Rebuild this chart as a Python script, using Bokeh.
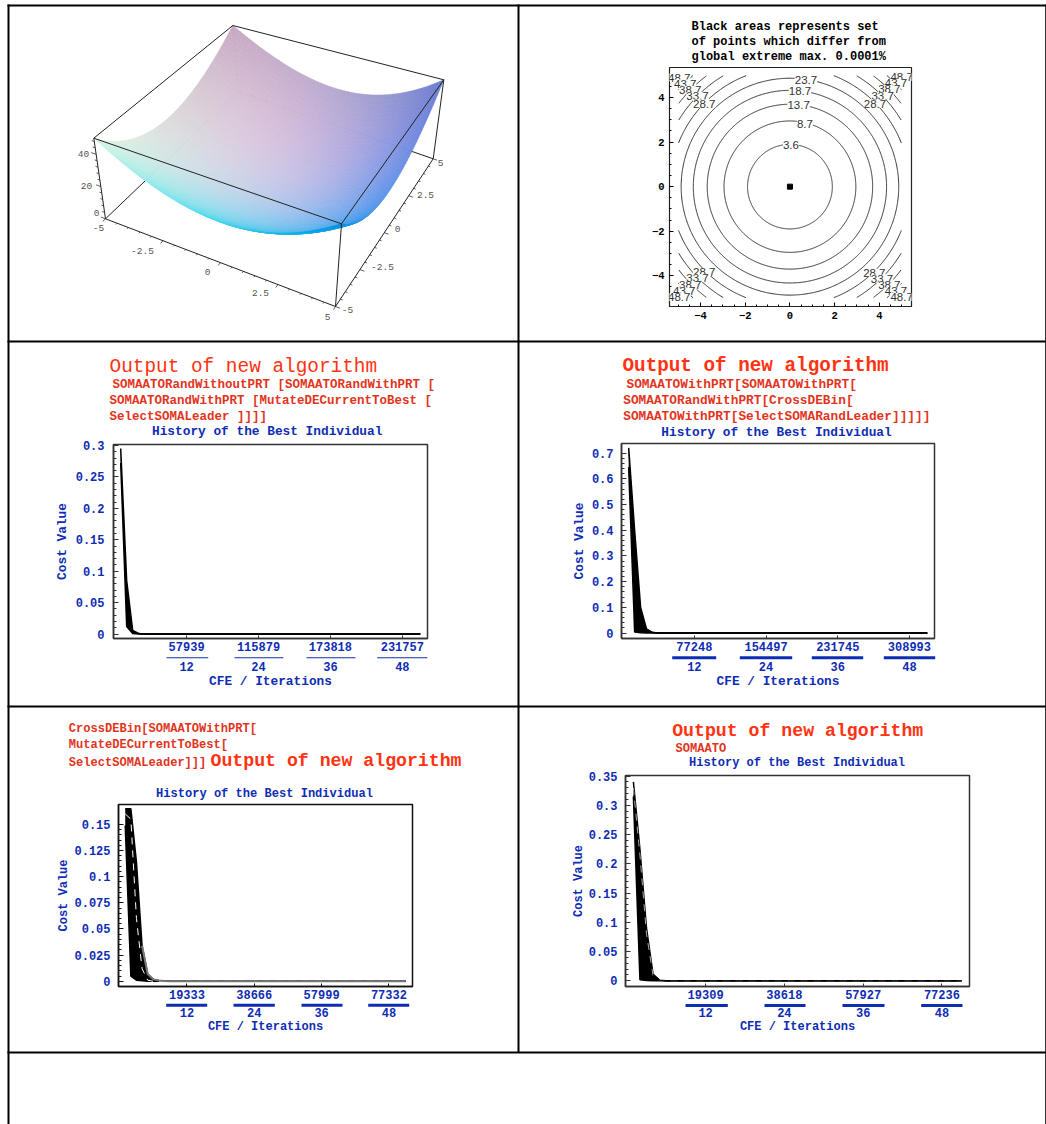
import numpy as np
from bokeh.plotting import figure
from bokeh.layouts import column, row
from bokeh.models import (Range1d, LinearAxis, FixedTicker, Label)
from bokeh.embed import file_html
from bokeh.resources import INLINE

# ---------- data ----------
ITER = list(range(1, 52))
C1_UP = [.295, .085, .006, .001] + [0.0] * 47
C1_LO = [.272, .012, .001, .0] + [0.0] * 47
C2_UP = [.72, .40, .10, .015, .002, .0004] + [0.0] * 45
C2_LO = [.645, .004, .001, .0] + [0.0] * 47
C3_UP = [.165, .165, .114, .034, .007, .0018, .0007, .0002] + [0.0] * 43
C3_LO = [.149, .005, .001, .0005] + [0.0] * 47
C3_MID = [.16, .155, .06, .012, .001] + [0.0] * 46
C4_UP = [.34, .225, .09, .011, .001] + [0.0] * 46
C4_LO = [.315, .002, .0005] + [0.0] * 48
C4_MID = [.33, .215, .08, .009, .001] + [0.0] * 46

IT_TICKS = [12, 24, 36, 48]
C1_CFE = ["57939", "115879", "173818", "231757"]
C2_CFE = ["77248", "154497", "231745", "308993"]
C3_CFE = ["19333", "38666", "57999", "77332"]
C4_CFE = ["19309", "38618", "57927", "77236"]
C1_YT = [0, .05, .1, .15, .2, .25, .3]
C1_YL = ["0", "0.05", "0.1", "0.15", "0.2", "0.25", "0.3"]
C2_YT = [0, .1, .2, .3, .4, .5, .6, .7]
C2_YL = ["0", "0.1", "0.2", "0.3", "0.4", "0.5", "0.6", "0.7"]
C3_YT = [0, .025, .05, .075, .1, .125, .15]
C3_YL = ["0", "0.025", "0.05", "0.075", "0.1", "0.125", "0.15"]
C4_YT = [0, .05, .1, .15, .2, .25, .3, .35]
C4_YL = ["0", "0.05", "0.1", "0.15", "0.2", "0.25", "0.3", "0.35"]

CONTOUR_LEVELS = [3.6, 8.7, 13.7, 18.7, 23.7, 28.7, 33.7, 38.7, 43.7, 48.7]
AXIS_3D = [-5, -2.5, 0, 2.5, 5]
Z_3D = [0, 20, 40]

MONO = "Liberation Mono"
BLUE = "#0f2db4"
RED = "#ff3311"
RED2 = "#e2341d"

# ---------- overlay covering the whole page: table lines, headings, fraction rules ----------
ov = figure(width=1046, height=1124, x_range=Range1d(0, 1046), y_range=Range1d(1124, 0), toolbar_location=None,
            output_backend="svg", min_border=0, outline_line_color=None, border_fill_color=None, background_fill_color=None,
            frame_align=False, styles={"position": "absolute", "left": "0px", "top": "0px"})
ov.grid.visible = False
ov.xaxis.visible = False
ov.yaxis.visible = False
for a, b, end in [(7, 9, 1124), (517, 519, 1052), (1044.7, 1046, 1124)]:
    ov.quad(left=a, right=b, top=4, bottom=end, fill_color="black", line_color=None)
for a, b in [(4, 6), (340, 342), (705, 707), (1051, 1053)]:
    ov.quad(left=7, right=1046, top=a, bottom=b, fill_color="black", line_color=None)


def txt(x, y, s, size, color, align="left", bold=True, font=MONO):
    ov.add_layout(Label(x=x, y=y, text=s, text_font=font, text_font_size=f"{size}px", text_color=color,
                        text_align=align, text_baseline="middle", text_font_style="bold" if bold else "normal"))


def rules(spans, yc, thick):
    for a, b in spans:
        ov.quad(left=a, right=b, top=yc - thick / 2, bottom=yc + thick / 2, fill_color=BLUE, line_color=None)


def minors(t, n=5):
    out = []
    for a, b in zip(t[:-1], t[1:]):
        out += [a + (b - a) * k / n for k in range(1, n)]
    return out


def chart(cell, wh, frame, yr, yt, yl, cfe, up, lo, mid=None, mid_color="white", tail="black", tail_w=1.5, frame_color="#333333",
          font=12.8, tick_font=12, ystand=8, label_stand=0, x2label=2, x2stand=0):
    w, h = wh
    fl, fr, ft, fb = frame
    p = figure(width=w, height=h, x_range=Range1d(-0.2, 52.2), y_range=Range1d(*yr),
               toolbar_location=None, output_backend="svg", frame_align=False,
               min_border_left=fl - cell[0], min_border_right=cell[0] + w - fr,
               min_border_top=ft - cell[1], min_border_bottom=cell[1] + h - fb,
               outline_line_color=frame_color, outline_line_width=1.5)
    p.grid.visible = False
    p.varea(ITER, lo, up, fill_color="black")
    p.line(ITER, up, line_color="black", line_width=1.5)
    p.line(ITER, lo, line_color="black", line_width=1.5)
    if mid is not None:
        p.line(ITER, mid, line_color=mid_color, line_width=1, line_dash="7 6")
    p.line(ITER[3:], up[3:], line_color=tail, line_width=tail_w)

    ax = p.xaxis[0]
    ax.ticker = FixedTicker(ticks=IT_TICKS)
    ax.major_label_overrides = dict(zip(IT_TICKS, cfe))
    ax.major_tick_in = 3
    ax.major_tick_out = 0
    ax.major_tick_line_color = frame_color
    ax.minor_tick_line_color = None
    ax.axis_line_color = frame_color
    ax.axis_line_width = 1.5
    ax.major_label_standoff = 3
    ax.major_label_text_font = MONO
    ax.major_label_text_font_size = f"{tick_font}px"
    ax.major_label_text_font_style = "bold"
    ax.major_label_text_color = BLUE

    ax2 = LinearAxis(ticker=FixedTicker(ticks=IT_TICKS), axis_label="CFE / Iterations",
                     axis_label_text_font=MONO, axis_label_text_font_size=f"{font}px",
                     axis_label_text_font_style="bold", axis_label_text_color=BLUE,
                     axis_label_standoff=x2stand,
                     major_label_text_font=MONO, major_label_text_font_size=f"{tick_font}px",
                     major_label_text_font_style="bold", major_label_text_color=BLUE,
                     major_label_standoff=x2label, axis_line_color=None, major_tick_line_color=None,
                     minor_tick_line_color=None, major_label_overrides={t: str(t) for t in IT_TICKS})
    p.add_layout(ax2, "below")

    ay = p.yaxis[0]
    ay.ticker = FixedTicker(ticks=yt, minor_ticks=minors(yt))
    ay.major_label_overrides = dict(zip(yt, yl))
    ay.major_tick_in = 5
    ay.major_tick_out = 0
    ay.minor_tick_in = 3
    ay.minor_tick_out = 0
    ay.major_tick_line_color = frame_color
    ay.minor_tick_line_color = frame_color
    ay.axis_line_color = frame_color
    ay.axis_line_width = 1.5
    ay.major_label_standoff = ystand
    ay.major_label_text_font = MONO
    ay.major_label_text_font_size = f"{tick_font}px"
    ay.major_label_text_font_style = "bold"
    ay.major_label_text_color = BLUE
    ay.axis_label = "Cost Value"
    ay.axis_label_standoff = label_stand
    ay.axis_label_text_font = MONO
    ay.axis_label_text_font_size = f"{font}px"
    ay.axis_label_text_font_style = "bold"
    ay.axis_label_text_color = BLUE
    return p


# ---------- cell 1: surface ----------
p1 = figure(width=511, height=337, x_range=Range1d(7, 518), y_range=Range1d(341, 4), toolbar_location=None,
            output_backend="svg", min_border=0, outline_line_color=None, frame_align=False)
p1.grid.visible = False
p1.xaxis.visible = False
p1.yaxis.visible = False

# box corners as seen in the picture, (x, y, z) -> px: index [x>0][y>0][z>0]
BOX = np.array([[[[105, 218.3], [93.3, 137.7]], [[238, 91], [232.3, 25]]],
                [[[335, 306], [341, 223.3]], [[432.7, 158.3], [443.3, 79.3]]]])


def proj(x, y, z):
    s, t, h = (np.asarray(x, float) + 5) / 10, (np.asarray(y, float) + 5) / 10, np.asarray(z, float) / 50
    out = 0
    for i, a in enumerate((1 - s, s)):
        for j, b in enumerate((1 - t, t)):
            for k, c in enumerate((1 - h, h)):
                out = out + np.multiply.outer(a * b * c, BOX[i, j, k])
    return out[..., 0], out[..., 1]


def edge(a, b, **kw):
    xs, ys = proj(*zip(a, b))
    p1.line(list(xs), list(ys), **kw)


LB = dict(line_color="#222222", line_width=1)
for a, b in [((-5, -5, 0), (-5, 5, 0)), ((5, 5, 0), (-5, 5, 0)), ((-5, 5, 0), (-5, 5, 50))]:
    edge(a, b, **LB)

CTRL = np.array([[[0xd8, 0xf4, 0xe4], [0x40, 0xd4, 0xec], [0x00, 0x90, 0xe0]],
                 [[0xdc, 0xdc, 0xdc], [0xbc, 0xc8, 0xea], [0x5c, 0x94, 0xea]],
                 [[0xc8, 0xa8, 0xc4], [0xb4, 0xa8, 0xd0], [0x6c, 0x7c, 0xd0]]], float)


def basis(t):
    return np.array([t * (t - 1) / 2, 1 - t * t, t * (t + 1) / 2])


N = 60
gx = np.linspace(-5, 5, N + 1)
xs_p, ys_p, cols = [], [], []
for i in range(N):
    for j in range(N - 1, -1, -1):
        qx = np.array([gx[i], gx[i + 1], gx[i + 1], gx[i]])
        qy = np.array([gx[j], gx[j], gx[j + 1], gx[j + 1]])
        sx, sy = proj(qx, qy, qx ** 2 + qy ** 2)
        xs_p.append(sx.tolist())
        ys_p.append(sy.tolist())
        cx, cy = (gx[i] + gx[i + 1]) / 10, (gx[j] + gx[j + 1]) / 10
        c = np.einsum("i,j,ijk->k", basis(cy), basis(cx), CTRL)
        c = np.clip(c, 0, 255).astype(int)
        cols.append("#%02x%02x%02x" % tuple(c))
p1.patches(xs_p, ys_p, fill_color=cols, line_color=cols, line_width=0.6)

for a, b in [((-5, -5, 50), (5, -5, 50)), ((5, -5, 50), (5, 5, 50)), ((5, 5, 50), (-5, 5, 50)), ((-5, 5, 50), (-5, -5, 50)),
             ((-5, -5, 50), (-5, -5, 0)), ((5, -5, 50), (5, -5, 0)), ((5, 5, 50), (5, 5, 0)),
             ((-5, -5, 0), (5, -5, 0)), ((5, -5, 0), (5, 5, 0))]:
    edge(a, b, **LB)

for v in np.arange(-5, 5.01, 0.5):
    m = abs(v / 2.5 - round(v / 2.5)) < 1e-6
    ln = .2 if m else .1
    edge((v, -5, 0), (v, -5 - ln, 0), line_color="#333333", line_width=.8)
    edge((5, v, 0), (5 + ln, v, 0), line_color="#333333", line_width=.8)
for v in range(0, 50, 4):
    ln = .2 if v % 20 == 0 else .1
    edge((-5, -5, v), (-5 - ln, -5, v), line_color="#333333", line_width=.8)

G = "#555555"
for t, (x, y) in zip(AXIS_3D, [(98, 227), (142, 250), (207, 271), (260, 292), (327, 316)]):
    txt(x, y, str(t), 9.5, G, "center", False)
for t, (x, y) in zip(AXIS_3D, [(347, 309), (382, 266), (397, 228), (425, 194), (440, 162)]):
    txt(x, y, str(t), 9.5, G, "center", False)
for t, (x, y) in zip(Z_3D, [(96, 212), (86, 185), (83, 153)]):
    txt(x, y, str(t), 9.5, G, "center", False)

# ---------- cell 2: contours ----------
p2 = figure(width=528, height=337, x_range=Range1d(-5.39, 5.44), y_range=Range1d(-5.38, 5.35), toolbar_location=None,
            output_backend="svg", min_border_left=669 - 518, min_border_right=1046 - 911, min_border_top=67 - 4,
            min_border_bottom=341 - 306, outline_line_color="#222222", outline_line_width=1.2, frame_align=False)
p2.grid.visible = False
theta = np.linspace(0, 2 * np.pi, 721)
for lev in CONTOUR_LEVELS:
    r = np.sqrt(lev)
    cx_, cy_ = r * np.cos(theta), r * np.sin(theta)
    out_ = (np.abs(cx_) > 5) | (np.abs(cy_) > 5)
    cx_[out_] = np.nan
    cy_[out_] = np.nan
    p2.line(cx_.tolist(), cy_.tolist(), line_color="#333333", line_width=1)
p2.scatter([0], [0], marker="square", size=5, color="black")
for ax_ in (p2.xaxis[0], p2.yaxis[0]):
    ax_.ticker = FixedTicker(ticks=[-4, -2, 0, 2, 4], minor_ticks=[v / 2 for v in range(-10, 11) if v % 4])
    ax_.major_tick_in = 4
    ax_.major_tick_out = 0
    ax_.minor_tick_in = 2
    ax_.minor_tick_out = 0
    ax_.axis_line_color = "#222222"
    ax_.major_label_text_font = MONO
    ax_.major_label_text_font_style = "bold"
    ax_.major_label_text_font_size = "10.5px"
    ax_.major_label_text_color = "black"
    ax_.major_label_standoff = 5
LAB = [(23.7, 465, 207), (18.7, 447, 241), (13.7, 443, 283), (8.7, 462, 338), (3.6, 420, 403),
       (48.7, 85, 200), (43.7, 103, 218), (38.7, 118, 237), (33.7, 140, 255), (28.7, 160, 278),
       (48.7, 752, 198), (43.7, 735, 216), (38.7, 715, 235), (33.7, 695, 255), (28.7, 672, 278),
       (28.7, 160, 785), (33.7, 140, 803), (38.7, 118, 825), (43.7, 100, 843), (48.7, 85, 860),
       (28.7, 670, 787), (33.7, 693, 805), (38.7, 715, 825), (43.7, 735, 843), (48.7, 752, 860)]
for lv, zx, zy in LAB:
    p2.add_layout(Label(x=(zx - 417) / 67, y=(528 - zy) / 67, text=str(lv), text_font="Liberation Sans",
                        text_font_size="11.5px", text_color="#333333", text_align="center", text_baseline="middle",
                        background_fill_color="white"))
for y, s in [(26.7, "Black areas represents set"), (41, "of points which differ from"), (56, "global extreme max. 0.0001%")]:
    txt(691, y, s, 12, "black")

# ---------- cell 3 ----------
p3 = chart((7, 341), (511, 365), (113, 427, 444, 638), (-0.007, 0.3015), C1_YT, C1_YL, C1_CFE, C1_UP, C1_LO, label_stand=3, ystand=9)
txt(109, 366, "Output of new algorithm", 19.4, RED, bold=False)
for x, y, s in [(112, 384, "SOMAATORandWithoutPRT [SOMAATORandWithPRT ["), (109, 400, "SOMAATORandWithPRT [MutateDECurrentToBest ["),
                (109, 416, "SelectSOMALeader ]]]]")]:
    txt(x, y, s, 12.5, RED2)
txt(266.7, 431, "History of the Best Individual", 12.8, BLUE, "center")
rules([(166, 207.7), (234, 282.7), (306, 355), (376.7, 426.7)], 657.3, 1)

# ---------- cell 4 ----------
p4 = chart((518, 341), (528, 365), (621, 934, 443, 638), (-0.021, 0.737), C2_YT, C2_YL, C2_CFE, C2_UP, C2_LO, label_stand=2)
txt(622, 365, "Output of new algorithm", 19.3, RED)
for x, y, s in [(626, 384, "SOMAATOWithPRT[SOMAATOWithPRT["), (622.7, 400, "SOMAATORandWithPRT[CrossDEBin["),
                (622.7, 416, "SOMAATOWithPRT[SelectSOMARandLeader]]]]]")]:
    txt(x, y, s, 12.8, RED2)
txt(776, 431.7, "History of the Best Individual", 12.8, BLUE, "center")
rules([(671.7, 715.7), (739.3, 791.7), (811.3, 862.7), (883.3, 934.7)], 657.3, 3)

# ---------- cell 5 ----------
p5 = chart((7, 706), (511, 346), (118, 412, 804, 986), (-0.005, 0.169), C3_YT, C3_YL, C3_CFE, C3_UP, C3_LO, mid=C3_MID,
           tail="#777777", tail_w=2, frame_color="#111111", font=12, x2label=0)
for y, s in [(728.3, "CrossDEBin[SOMAATOWithPRT["), (744, "MutateDECurrentToBest["), (762, "SelectSOMALeader]]]")]:
    txt(68.3, y, s, 12.07, RED2)
txt(210, 760.7, "Output of new algorithm", 18.2, RED)
txt(264, 793.3, "History of the Best Individual", 12.05, BLUE, "center")
rules([(165.7, 206.7), (233, 274.3), (301, 342), (367.7, 408.7)], 1004.7, 3)

# ---------- cell 6 ----------
p6 = chart((518, 706), (528, 346), (625, 969, 775, 986), (-0.0097, 0.351), C4_YT, C4_YL, C4_CFE, C4_UP, C4_LO, mid=C4_MID,
           mid_color="#aaaaaa", tail_w=1.2, font=12, x2label=0)
txt(671.7, 730, "Output of new algorithm", 18.2, RED)
txt(675, 748, "SOMAATO", 12.07, RED2)
txt(796.5, 762.3, "History of the Best Individual", 12, BLUE, "center")
rules([(685, 727.3), (764, 805), (842, 884), (920.7, 962)], 1005, 3)

# empty bottom row, keeps the page 1124 tall
p7 = figure(width=1039, height=72, toolbar_location=None, output_backend="svg", min_border=0, outline_line_color=None,
            x_range=Range1d(0, 1), y_range=Range1d(0, 1), frame_align=False)
p7.grid.visible = False
p7.xaxis.visible = False
p7.yaxis.visible = False

grid = column(row(p1, p2, spacing=0), row(p3, p4, spacing=0), row(p5, p6, spacing=0), p7, spacing=0,
              styles={"margin": "4px 0 0 7px"})
root = column(grid, ov, spacing=0)
open("out.html", "w").write(file_html(root, INLINE))
